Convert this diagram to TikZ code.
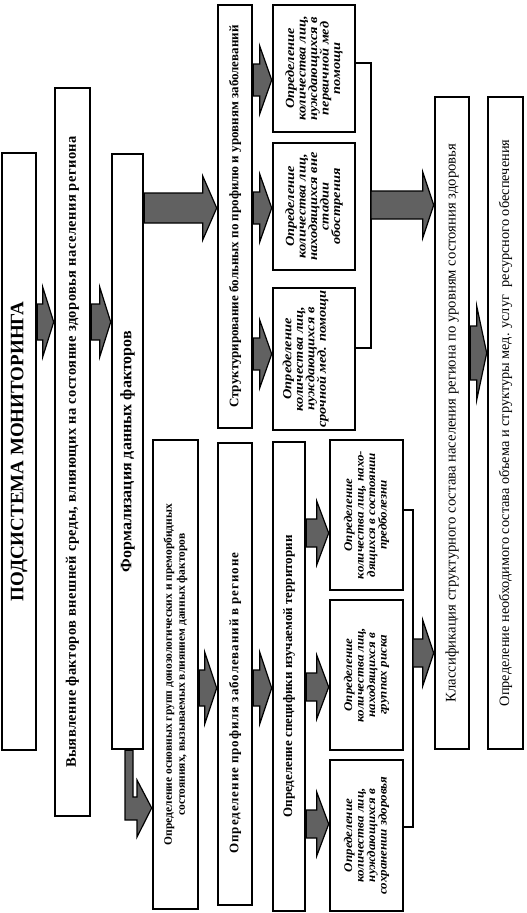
\documentclass[tikz,border=0pt]{standalone}
\usepackage{fontspec}
\setmainfont{Liberation Serif}
\usetikzlibrary{calc}
\tikzset{
  box/.style={draw, line width=2.6pt, fill=white, inner sep=0pt, anchor=center},
  arr/.style={draw, line width=1.2pt, fill=black!62, line join=miter},
  conn/.style={draw, line width=2.2pt},
}
\newcommand{\vt}[2]{\rotatebox{90}{\parbox{#1}{\centering\lineskiplimit=-20pt #2}}}
% stretched italic lines: #1 stretch, #2 font size, #3 rows separated by \cr
\newcommand{\vi}[3]{\rotatebox{90}{\scalebox{#1}[1]{\vbox{\fontsize{#2}{11.5}\selectfont
  \bfseries\itshape\baselineskip=11.5pt\lineskiplimit=-20pt\lineskip=0pt
  \halign{\hfil##\hfil\cr #3\crcr}}}}}
% block arrow: #1 start point, #2 end point (anchor), #3 y, #4 shaft half, #5 head half, #6 head length
\newcommand{\BA}[6]{%
  \path (#1 |- 0,#3) coordinate (bs) (#2 |- 0,#3) coordinate (bt);
  \filldraw[arr] ($(bs)+(0,-#4)$) -- ($(bt)+(-#6,-#4)$) -- ($(bt)+(-#6,-#5)$) -- (bt)
    -- ($(bt)+(-#6,#5)$) -- ($(bt)+(-#6,#4)$) -- ($(bs)+(0,#4)$) -- cycle;
}
\begin{document}
\begin{tikzpicture}[x=1pt,y=-1pt]
\useasboundingbox[fill=white] (0,0) rectangle (527,913);

% main column boxes
\node[box, minimum width=34pt, minimum height=597pt] (n1) at (19,451.5)
  {\rotatebox{90}{\fontsize{19}{22}\selectfont\bfseries ПОДСИСТЕМА МОНИТОРИНГА}};
\node[box, minimum width=35pt, minimum height=728pt] (n2) at (72.5,452)
  {\rotatebox{90}{\fontsize{14.5}{16}\selectfont\bfseries\addfontfeatures{LetterSpace=3}Выявление факторов внешней среды, влияющих на состояние здоровья населения региона}};
\node[box, minimum width=31pt, minimum height=595pt] (n3) at (127.5,451.5)
  {\rotatebox{90}{\fontsize{16}{18}\selectfont\bfseries Формализация данных факторов}};
\node[box, minimum width=34pt, minimum height=423pt] (n4) at (235,216.5)
  {\rotatebox{90}{\fontsize{13}{15}\selectfont\bfseries Структурирование больных по профилю и уровням заболеваний}};
\node[box, minimum width=45pt, minimum height=469pt] (nG) at (175.5,674.5)
  {\vt{460pt}{\fontsize{11.5}{13}\selectfont\bfseries Определение основных групп донозологических и преморбидных\\ состояниях, вызываемых влиянием данных факторов}};
\node[box, minimum width=34pt, minimum height=462pt] (nP) at (235,674)
  {\rotatebox{90}{\fontsize{13}{15}\selectfont\bfseries\addfontfeatures{LetterSpace=7}Определение профиля заболеваний в регионе\hspace*{58pt}}};
\node[box, minimum width=32pt, minimum height=469pt] (nS) at (289,676.5)
  {\rotatebox{90}{\fontsize{13}{15}\selectfont\bfseries Определение специфики изучаемой территории}};

% small italic boxes, upper group
\node[box, minimum width=82pt, minimum height=127pt] (nA) at (314,68.5)
  {\vi{1.15}{12.5}{Определение\cr количества лиц,\cr нуждающихся в\cr первичной мед\cr помощи}};
\node[box, minimum width=82pt, minimum height=127pt] (nB) at (314,206.5)
  {\vi{1.15}{12.5}{Определение\cr количества лиц,\cr находящихся вне\cr стадии\cr обострения}};
\node[box, minimum width=82pt, minimum height=142pt] (nC) at (314,359)
  {\vi{1.15}{12.5}{Определение\cr количества лиц,\cr нуждающихся в\cr срочной мед. помощи\cr\noalign{\vskip 17pt}}};

% small italic boxes, lower group
\node[box, minimum width=73pt, minimum height=150pt] (nD) at (366.5,515)
  {\vi{1.1}{11.8}{Определение\cr количества лиц, нахо-\cr дящихся в состоянии\cr предболезни}};
\node[box, minimum width=73pt, minimum height=150pt] (nE) at (366.5,675)
  {\vi{1.1}{11.8}{Определение\cr количества лиц,\cr находящихся в\cr группах риска}};
\node[box, minimum width=73pt, minimum height=151pt] (nF) at (366.5,835.5)
  {\vi{1.1}{11.8}{Определение\cr количества лиц,\cr нуждающихся в\cr сохранении здоровья}};

% right column
\node[box, minimum width=34pt, minimum height=652pt] (nCl) at (452,423)
  {\rotatebox{90}{\fontsize{14.7}{17}\selectfont Классификация структурного состава населения региона по уровням состояния здоровья}};
\node[box, minimum width=35pt, minimum height=652pt] (nL) at (505.5,423)
  {\rotatebox{90}{\fontsize{14.3}{17}\selectfont Определение необходимого состава объема и структуры мед. услуг\ \ ресурсного обеспечения}};

% bracket connectors
\coordinate (br1) at (371,205);
\coordinate (br2) at (413,653);
\draw[conn] (nA.east |- 0,63) -| (br1) |- (nC.east |- 0,348);
\draw[conn] (nD.east |- 0,510) -| (br2) |- (nF.east |- 0,827);

% block arrows
\BA{n1.east}{n2.west}{322}{18}{35}{11}
\BA{n2.east}{n3.west}{322}{18}{35}{11}
\BA{n3.east}{n4.west}{208}{15}{32}{14}
\BA{n4.east}{nA.west}{80}{16}{34}{12}
\BA{n4.east}{nB.west}{208}{16}{34}{12}
\BA{n4.east}{nC.west}{354}{16}{34}{12}
\BA{br1}{nCl.west}{205}{14}{33}{11}
\BA{nG.east}{nP.west}{688}{18}{36}{12}
\BA{nP.east}{nS.west}{688}{18}{36}{12}
\BA{nS.east}{nD.west}{533}{14}{32}{12}
\BA{nS.east}{nE.west}{687}{14}{32}{12}
\BA{nS.east}{nF.west}{824}{14}{32}{12}
\BA{br2}{nCl.west}{653}{14}{33}{11}
\BA{nCl.east}{nL.west}{353}{27}{47}{10}

% L-shaped arrow from n3 down to nG
\filldraw[arr] (n3.south -| 125,0) -- (n3.south -| 133,0) -- (133,797) -- (137,797) -- (137,780)
  -- (nG.west |- 0,808) -- (137,837) -- (137,820) -- (125,820) -- cycle;
\end{tikzpicture}
\end{document}
